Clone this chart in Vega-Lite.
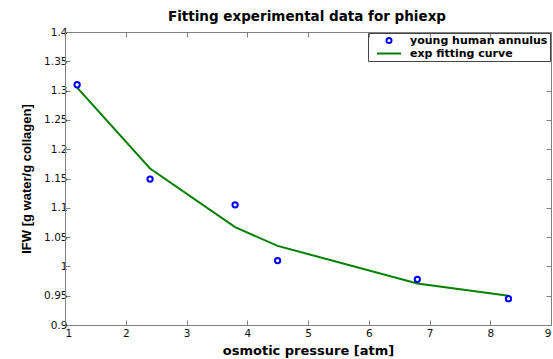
{
  "$schema": "https://vega.github.io/schema/vega-lite/v6.json",
  "autosize": "none",
  "width": 486,
  "height": 293,
  "padding": {"left": 65, "top": 32, "right": 2, "bottom": 34},
  "background": "white",
  "title": {"text": "Fitting experimental data for phiexp", "font": "DejaVu Sans", "fontSize": 13.5, "fontWeight": "bold", "color": "black", "offset": 4, "dx": -1},
  "config": {
    "view": {"stroke": "#808080", "strokeWidth": 1},
    "axis": {"grid": false, "domainColor": "#808080", "tickColor": "#808080", "labelFont": "DejaVu Sans", "labelFontSize": 10.5, "labelColor": "#111", "titleFont": "DejaVu Sans", "titleFontSize": 13, "titleFontWeight": "bold", "titleColor": "black"}
  },
  "datasets": {
    "obs": [
      {"p": 1.2, "ifw": 1.31},
      {"p": 2.4, "ifw": 1.149},
      {"p": 3.8, "ifw": 1.105},
      {"p": 4.5, "ifw": 1.01},
      {"p": 6.8, "ifw": 0.978},
      {"p": 8.3, "ifw": 0.945}
    ],
    "fit": [
      {"p": 1.2, "ifw": 1.305},
      {"p": 2.4, "ifw": 1.167},
      {"p": 3.8, "ifw": 1.067},
      {"p": 4.5, "ifw": 1.035},
      {"p": 6.8, "ifw": 0.971},
      {"p": 8.3, "ifw": 0.95}
    ]
  },
  "layer": [
    {
      "data": {"name": "fit"},
      "transform": [{"calculate": "'exp fitting curve'", "as": "series"}],
      "mark": {"type": "line", "strokeWidth": 2},
      "encoding": {
        "x": {"field": "p", "type": "quantitative", "scale": {"domain": [1, 9], "nice": false, "zero": false},
          "axis": {"orient": "bottom", "values": [1,2,3,4,5,6,7,8,9], "format": "d", "tickSize": -5, "labelPadding": 8, "title": "osmotic pressure [atm]", "titlePadding": 6,
            "encode": {"labels": {"update": {"dx": {"signal": "datum.value == 1 ? 2 : 0"}}}}}},
        "y": {"field": "ifw", "type": "quantitative", "scale": {"domain": [0.9, 1.4], "nice": false, "zero": false},
          "axis": {"orient": "left", "values": [0.9,0.95,1,1.05,1.1,1.15,1.2,1.25,1.3,1.35,1.4], "format": ".3~g", "tickSize": -5, "labelPadding": 3, "title": "IFW [g water/g collagen]", "titleFont": "Liberation Sans", "titleFontSize": 13, "titlePadding": 10,
            "encode": {"labels": {"update": {"dy": {"signal": "datum.value < 0.91 ? -3 : 0"}}}}}},
        "color": {"field": "series", "type": "nominal",
          "scale": {"domain": ["young human annulus", "exp fitting curve"], "range": ["#0000ff", "#008000"]},
          "legend": {"title": null, "orient": "top-right", "offset": 1, "labelFont": "DejaVu Sans", "labelFontSize": 11, "labelFontWeight": "bold", "labelColor": "black", "strokeColor": "#444", "padding": 2, "rowPadding": 0, "symbolSize": 30, "symbolStrokeWidth": 2,
            "encode": {
              "symbols": {"update": {
                "x": {"value": 19},
                "shape": {"signal": "datum.value == 'exp fitting curve' ? 'M-2.4,0H2.4' : 'circle'"},
                "size": {"signal": "datum.value == 'exp fitting curve' ? 100 : 25"},
                "fill": {"value": "transparent"},
                "stroke": {"signal": "datum.value == 'exp fitting curve' ? '#008000' : '#0000ff'"},
                "strokeWidth": {"value": 2}
              }},
              "labels": {"update": {"x": {"value": 40}}}
            }}}
      }
    },
    {
      "data": {"name": "obs"},
      "transform": [{"calculate": "'young human annulus'", "as": "series"}],
      "mark": {"type": "point", "filled": false, "size": 28, "strokeWidth": 2, "shape": "circle", "opacity": 1},
      "encoding": {
        "x": {"field": "p", "type": "quantitative", "scale": {"domain": [1, 9], "nice": false, "zero": false},
          "axis": {"orient": "top", "values": [1,2,3,4,5,6,7,8,9], "labels": false, "tickSize": -5, "title": null, "domain": false}},
        "y": {"field": "ifw", "type": "quantitative", "scale": {"domain": [0.9, 1.4], "nice": false, "zero": false},
          "axis": {"orient": "right", "values": [0.9,0.95,1,1.05,1.1,1.15,1.2,1.25,1.3,1.35,1.4], "labels": false, "tickSize": -5, "title": null, "domain": false}},
        "color": {"field": "series", "type": "nominal"}
      }
    }
  ],
  "resolve": {"axis": {"x": "independent", "y": "independent"}}
}
